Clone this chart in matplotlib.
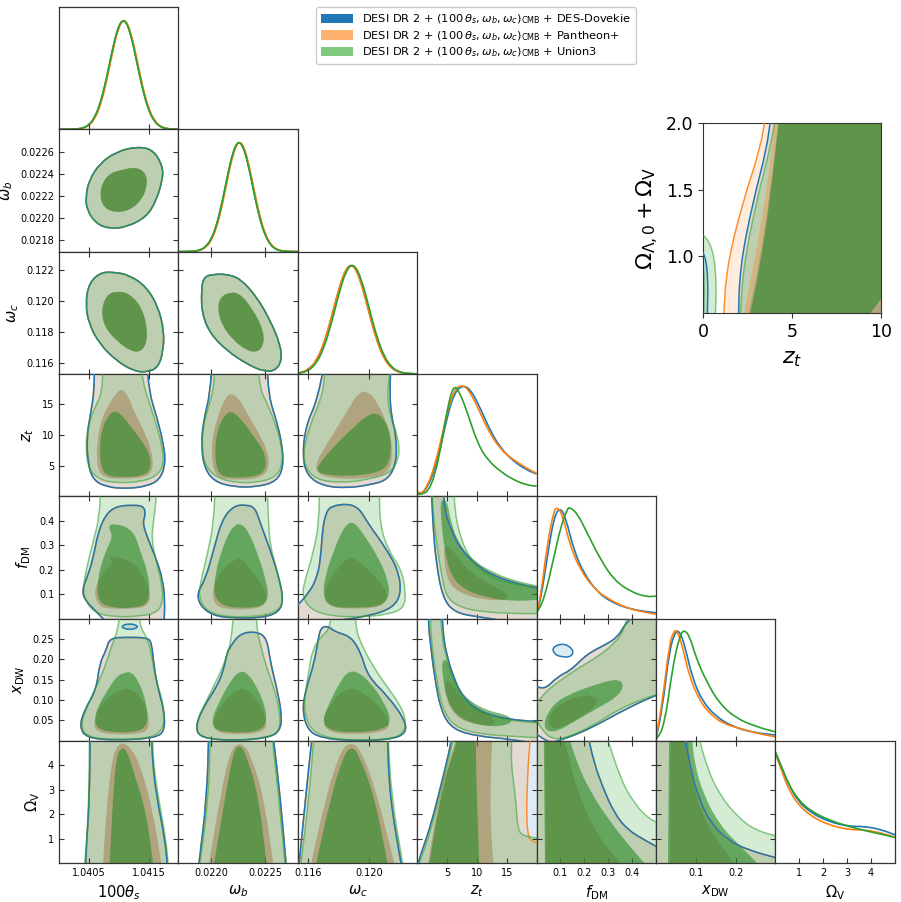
import numpy as np
import matplotlib
matplotlib.use("Agg")
import matplotlib.pyplot as plt
from matplotlib.path import Path
from matplotlib.patches import PathPatch, Patch

# ---- parameters -------------------------------------------------------
labels = [r"$100\theta_s$", r"$\omega_b$", r"$\omega_c$", r"$z_t$",
          r"$f_{\rm DM}$", r"$x_{\rm DW}$", r"$\Omega_{\rm V}$"]
ranges = [(1.0400, 1.0420), (0.0217, 0.0228), (0.1153, 0.1232), (0, 20),
          (0, 0.5), (0, 0.3), (0, 5)]
xticks = [[1.0405, 1.0415], [0.0220, 0.0225], [0.116, 0.120], [5, 10, 15],
          [0.1, 0.2, 0.3, 0.4], [0.1, 0.2], [1, 2, 3, 4]]
xticklabels = [["1.0405", "1.0415"], ["0.0220", "0.0225"], ["0.116", "0.120"],
               ["5", "10", "15"], ["0.1", "0.2", "0.3", "0.4"], ["0.1", "0.2"],
               ["1", "2", "3", "4"]]
yticks = [None, [0.0218, 0.0220, 0.0222, 0.0224, 0.0226], [0.116, 0.118, 0.120, 0.122],
          [5, 10, 15], [0.1, 0.2, 0.3, 0.4], [0.05, 0.10, 0.15, 0.20, 0.25], [1, 2, 3, 4]]
yticklabels = [None, ["0.0218", "0.0220", "0.0222", "0.0224", "0.0226"],
               ["0.116", "0.118", "0.120", "0.122"], ["5", "10", "15"],
               ["0.1", "0.2", "0.3", "0.4"], ["0.05", "0.10", "0.15", "0.20", "0.25"],
               ["1", "2", "3", "4"]]

legend_labels = [r"DESI DR 2 + $(100\,\theta_s, \omega_b, \omega_c)_{\rm CMB}$ + DES-Dovekie",
                 r"DESI DR 2 + $(100\,\theta_s, \omega_b, \omega_c)_{\rm CMB}$ + Pantheon+",
                 r"DESI DR 2 + $(100\,\theta_s, \omega_b, \omega_c)_{\rm CMB}$ + Union3"]
colors = ["#1f77b4", "#ff7f0e", "#2ca02c"]
inner_colors = ["#1f77b4", "#ff7f0e", "#288c28"]
legend_colors = ["#1f77b4", "#ffb26e", "#7fc97f"]

# ---- 1D marginals (peak normalised) -----------------------------------
theta_x = [1.0400, 1.0401, 1.0402, 1.0403, 1.0404, 1.0405, 1.0406, 1.0407, 1.0408, 1.0409,
           1.0410, 1.0411, 1.0412, 1.0413, 1.0414, 1.0415, 1.0416, 1.0417, 1.0418, 1.0419, 1.0420]
theta_b = [0, 0.0001, 0.0005, 0.0024, 0.0104, 0.036, 0.103, 0.240, 0.462, 0.726, 0.938,
           0.996, 0.868, 0.620, 0.364, 0.174, 0.069, 0.022, 0.006, 0.001, 0]
theta_o = [0, 0.0001, 0.0004, 0.002, 0.009, 0.032, 0.093, 0.222, 0.438, 0.704, 0.925,
           0.999, 0.885, 0.643, 0.385, 0.188, 0.076, 0.025, 0.007, 0.0015, 0]
theta_g = [0, 0.0001, 0.0006, 0.0027, 0.011, 0.038, 0.107, 0.247, 0.470, 0.733, 0.941,
           0.995, 0.862, 0.612, 0.357, 0.170, 0.067, 0.021, 0.006, 0.001, 0]

wb_x = [0.02170, 0.02175, 0.02180, 0.02185, 0.02190, 0.02195, 0.02200, 0.02205, 0.02210,
        0.02215, 0.02220, 0.02225, 0.02230, 0.02235, 0.02240, 0.02245, 0.02250, 0.02255,
        0.02260, 0.02265, 0.02270, 0.02275, 0.02280]
wb_b = [0, 0.0002, 0.0008, 0.0035, 0.013, 0.040, 0.103, 0.227, 0.423, 0.667, 0.887, 0.997,
        0.947, 0.760, 0.516, 0.297, 0.144, 0.059, 0.020, 0.006, 0.0015, 0.0003, 0]
wb_o = [0, 0.0001, 0.0006, 0.0028, 0.011, 0.035, 0.092, 0.208, 0.397, 0.640, 0.867, 0.992,
        0.960, 0.784, 0.543, 0.318, 0.157, 0.066, 0.023, 0.007, 0.0018, 0.0004, 0]
wb_g = [0, 0.0002, 0.0009, 0.0037, 0.014, 0.042, 0.106, 0.232, 0.430, 0.673, 0.891, 0.998,
        0.944, 0.754, 0.510, 0.292, 0.141, 0.057, 0.019, 0.006, 0.0014, 0.0003, 0]

wc_x = [0.1150, 0.1155, 0.1160, 0.1165, 0.1170, 0.1175, 0.1180, 0.1185, 0.1190,
        0.1195, 0.1200, 0.1205, 0.1210, 0.1215, 0.1220, 0.1225, 0.1230, 0.1235]
wc_b = [0.0024, 0.010, 0.037, 0.108, 0.256, 0.487, 0.756, 0.958, 0.987, 0.826, 0.563,
        0.311, 0.140, 0.051, 0.015, 0.004, 0.0007, 0.0001]
wc_o = [0.0026, 0.011, 0.039, 0.112, 0.262, 0.494, 0.762, 0.960, 0.985, 0.820, 0.556,
        0.305, 0.136, 0.049, 0.014, 0.0035, 0.0006, 0.0001]
wc_g = [0.0017, 0.0075, 0.029, 0.088, 0.220, 0.440, 0.712, 0.935, 0.997, 0.860, 0.605,
        0.345, 0.160, 0.060, 0.018, 0.0045, 0.0009, 0.0001]

zt_b_x = [0.11, 0.67, 1.78, 2.89, 4.0, 5.11, 6.22, 7.61, 9.0, 10.7, 12.3, 14.0, 16.2, 18.4, 20.0]
zt_b_y = [0.03, 0.018, 0.084, 0.235, 0.461, 0.732, 0.928, 1.0, 0.958, 0.777, 0.582, 0.431,
          0.310, 0.235, 0.199]
zt_o_x = [0.11, 0.67, 1.78, 2.89, 4.0, 5.11, 6.22, 7.33, 8.44, 10.1, 11.8, 14.0, 16.2, 18.4, 20.0]
zt_o_y = [0.04, 0.018, 0.10, 0.265, 0.506, 0.777, 0.958, 1.0, 0.973, 0.808, 0.597, 0.416,
          0.325, 0.250, 0.205]
zt_g_x = [0.11, 0.67, 1.78, 2.89, 4.0, 5.11, 6.11, 7.06, 8.44, 10.1, 11.8, 14.0, 16.2, 18.4, 20.0]
zt_g_y = [0.018, 0.018, 0.04, 0.175, 0.446, 0.808, 1.0, 0.943, 0.747, 0.476, 0.325, 0.22,
          0.145, 0.10, 0.09]

fdm_b_x = [0, 0.0168, 0.0448, 0.0728, 0.098, 0.121, 0.156, 0.198, 0.254, 0.310, 0.394, 0.5]
fdm_b_y = [0.051, 0.165, 0.555, 0.914, 1.0, 0.914, 0.614, 0.405, 0.240, 0.150, 0.081, 0.051]
fdm_o_x = [0, 0.0168, 0.0448, 0.0728, 0.0868, 0.107, 0.142, 0.184, 0.240, 0.296, 0.380, 0.465, 0.5]
fdm_o_y = [0.045, 0.195, 0.674, 0.974, 1.0, 0.944, 0.644, 0.435, 0.270, 0.180, 0.090, 0.051, 0.039]
fdm_g_x = [0, 0.0308, 0.0728, 0.101, 0.129, 0.140, 0.171, 0.213, 0.269, 0.325, 0.395, 0.458, 0.5]
fdm_g_y = [0.051, 0.165, 0.555, 0.824, 0.989, 1.0, 0.944, 0.764, 0.525, 0.345, 0.240, 0.195, 0.201]

xdw_b_x = [0, 0.0167, 0.0334, 0.050, 0.063, 0.075, 0.092, 0.117, 0.151, 0.192, 0.243, 0.3]
xdw_b_y = [0.015, 0.307, 0.814, 1.0, 0.963, 0.814, 0.560, 0.352, 0.218, 0.128, 0.075, 0.052]
xdw_o_x = [0, 0.0167, 0.0334, 0.046, 0.054, 0.067, 0.084, 0.109, 0.134, 0.167, 0.209, 0.251, 0.3]
xdw_o_y = [0.024, 0.367, 0.873, 0.995, 0.985, 0.843, 0.575, 0.367, 0.247, 0.158, 0.113, 0.069, 0.036]
xdw_g_x = [0, 0.0209, 0.0418, 0.0586, 0.0695, 0.084, 0.100, 0.125, 0.159, 0.201, 0.251, 0.3]
xdw_g_y = [0.009, 0.128, 0.665, 0.933, 1.0, 0.948, 0.754, 0.546, 0.337, 0.203, 0.128, 0.080]

ov_b_x = [0, 0.25, 0.53, 0.95, 1.51, 2.21, 3.05, 3.75, 4.45, 5.0]
ov_b_y = [1.0, 0.869, 0.719, 0.554, 0.450, 0.375, 0.330, 0.330, 0.300, 0.255]
ov_o_x = [0, 0.25, 0.53, 0.95, 1.51, 2.21, 3.05, 3.75, 4.45, 5.0]
ov_o_y = [0.99, 0.839, 0.674, 0.525, 0.420, 0.345, 0.300, 0.300, 0.270, 0.234]
ov_g_x = [0, 0.25, 0.53, 0.95, 1.51, 2.21, 3.05, 3.89, 4.72, 5.0]
ov_g_y = [0.99, 0.869, 0.719, 0.569, 0.465, 0.390, 0.330, 0.285, 0.246, 0.231]

marg_x = [[theta_x] * 3, [wb_x] * 3, [wc_x] * 3, [zt_b_x, zt_o_x, zt_g_x],
          [fdm_b_x, fdm_o_x, fdm_g_x], [xdw_b_x, xdw_o_x, xdw_g_x], [ov_b_x, ov_o_x, ov_g_x]]
marg_y = [[theta_b, theta_o, theta_g], [wb_b, wb_o, wb_g], [wc_b, wc_o, wc_g],
          [zt_b_y, zt_o_y, zt_g_y], [fdm_b_y, fdm_o_y, fdm_g_y],
          [xdw_b_y, xdw_o_y, xdw_g_y], [ov_b_y, ov_o_y, ov_g_y]]

# ---- 2D contours (95% / 68%), vertices ------------------------------------
# b = DES-Dovekie (orange uses the same unless 'o' keys given), g = Union3
c10_out = [(1.041296, 0.022644), (1.041576, 0.022619), (1.041743, 0.022462), (1.041732, 0.022342),
           (1.041631, 0.022161), (1.041464, 0.022010), (1.041128, 0.021920), (1.040849, 0.021905),
           (1.040626, 0.021950), (1.040469, 0.022071), (1.040447, 0.022191), (1.040503, 0.022342),
           (1.040682, 0.022493), (1.040961, 0.022598)]
c10_in = [(1.041017, 0.022432), (1.041296, 0.022462), (1.041464, 0.022402), (1.041475, 0.022282),
          (1.041380, 0.022161), (1.041184, 0.022071), (1.040933, 0.022050), (1.040737, 0.022101),
          (1.040682, 0.022221), (1.040737, 0.022327), (1.040849, 0.022402)]
c20_out = [(1.040680, 0.121827), (1.040904, 0.121892), (1.041185, 0.121675), (1.041466, 0.120917),
           (1.041663, 0.119617), (1.041758, 0.118100), (1.041747, 0.116800), (1.041663, 0.115717),
           (1.041466, 0.115392), (1.041242, 0.115500), (1.040961, 0.116150), (1.040680, 0.117233),
           (1.040500, 0.118533), (1.040444, 0.119833), (1.040500, 0.121133)]
c20_in = [(1.040792, 0.120375), (1.040961, 0.120657), (1.041185, 0.120483), (1.041382, 0.119617),
          (1.041478, 0.118317), (1.041466, 0.117233), (1.041354, 0.116692), (1.041185, 0.116800),
          (1.040961, 0.117450), (1.040764, 0.118317), (1.040708, 0.119400)]
c21_out = [(0.021933, 0.121567), (0.022025, 0.121740), (0.022147, 0.121740), (0.022270, 0.121458),
           (0.022423, 0.120267), (0.022546, 0.118750), (0.022638, 0.117233), (0.022653, 0.116150),
           (0.022592, 0.115500), (0.022485, 0.115457), (0.022331, 0.115933), (0.022147, 0.116800),
           (0.021994, 0.117883), (0.021917, 0.119183), (0.021911, 0.120700)]
c21_in = [(0.022086, 0.120267), (0.022178, 0.120592), (0.022270, 0.120483), (0.022393, 0.119400),
          (0.022485, 0.118100), (0.022485, 0.117125), (0.022423, 0.116692), (0.022331, 0.116800),
          (0.022209, 0.117450), (0.022101, 0.118425), (0.022061, 0.119508)]

c30 = {
    "g95": [[(1.040736, 23), (1.040725, 16.91), (1.040596, 14.45), (1.040483, 11.45), (1.040444, 7.62),
             (1.040500, 4.34), (1.040680, 2.70), (1.040961, 2.16), (1.041354, 2.32), (1.041635, 3.25),
             (1.041758, 5.16), (1.041730, 8.17), (1.041624, 12.0), (1.041494, 15.82), (1.041410, 18.55),
             (1.041343, 23)]],
    "b95": [[(1.040584, 23), (1.040596, 17.46), (1.040522, 13.09), (1.040466, 9.81), (1.040483, 5.44),
             (1.040567, 2.70), (1.040792, 1.50), (1.041129, 1.23), (1.041466, 1.61), (1.041691, 2.70),
             (1.041787, 5.44), (1.041747, 8.72), (1.041635, 13.09), (1.041511, 16.91), (1.041466, 23)]],
    "g68": [[(1.040933, 14.07), (1.041073, 13.09), (1.041242, 10.90), (1.041410, 8.72), (1.041534, 6.53),
             (1.041534, 4.34), (1.041410, 3.36), (1.041129, 3.09), (1.040792, 3.25), (1.040697, 4.89),
             (1.040680, 8.72), (1.040736, 11.45), (1.040820, 13.09)]],
    "b68": [[(1.041062, 17.46), (1.041157, 16.37), (1.041242, 14.18), (1.041410, 10.90), (1.041551, 7.62),
             (1.041579, 4.34), (1.041466, 3.14), (1.041129, 2.81), (1.040736, 2.98), (1.040635, 4.89),
             (1.040635, 8.72), (1.040708, 12.54), (1.040848, 15.27), (1.040989, 17.19)]],
}
c31 = {
    "g95": [[(0.022040, 23), (0.022025, 17.46), (0.021979, 14.73), (0.021926, 11.45), (0.021917, 7.62),
             (0.021948, 4.89), (0.022055, 2.98), (0.022239, 2.16), (0.022454, 2.27), (0.022607, 3.25),
             (0.022662, 5.44), (0.022653, 8.17), (0.022592, 12.0), (0.022515, 15.27), (0.022454, 17.46),
             (0.022423, 23)]],
    "b95": [[(0.022009, 23), (0.021994, 16.91), (0.021933, 12.54), (0.021911, 8.72), (0.021933, 4.89),
             (0.022025, 2.43), (0.022209, 1.50), (0.022423, 1.50), (0.022607, 2.43), (0.022669, 4.89),
             (0.022653, 8.72), (0.022601, 12.54), (0.022531, 16.37), (0.022515, 23)]],
    "g68": [[(0.022178, 14.02), (0.022270, 12.81), (0.022393, 9.81), (0.022500, 7.08), (0.022509, 4.34),
             (0.022423, 3.25), (0.022239, 2.98), (0.022086, 3.25), (0.022040, 5.44), (0.022040, 8.72),
             (0.022071, 11.45), (0.022123, 13.09)]],
    "b68": [[(0.022172, 16.91), (0.022255, 16.09), (0.022331, 13.63), (0.022439, 10.35), (0.022531, 7.08),
             (0.022531, 4.07), (0.022423, 2.81), (0.022209, 2.70), (0.022055, 2.98), (0.022009, 5.44),
             (0.022009, 9.26), (0.022055, 12.54), (0.022110, 15.27)]],
}
c32 = {
    "g95": [[(0.117156, 23), (0.117044, 18.52), (0.116822, 15.82), (0.116156, 12.0), (0.115667, 7.62),
             (0.115756, 4.89), (0.116489, 2.70), (0.118156, 2.16), (0.119933, 2.70), (0.121489, 3.80),
             (0.122044, 6.53), (0.121933, 9.81), (0.121378, 13.09), (0.121222, 16.91), (0.121378, 19.64),
             (0.121378, 23)]],
    "b95": [[(0.117156, 23), (0.116600, 15.82), (0.115822, 11.45), (0.115600, 6.53), (0.115933, 3.25),
             (0.117044, 1.61), (0.118600, 1.34), (0.120156, 1.89), (0.121267, 2.70), (0.121822, 5.44),
             (0.121822, 9.81), (0.121489, 13.09), (0.121378, 16.91), (0.121489, 23)]],
    "g68": [[(0.116600, 4.89), (0.117489, 7.62), (0.118822, 10.90), (0.119933, 13.36), (0.120711, 13.63),
             (0.121378, 10.90), (0.121489, 7.62), (0.121267, 4.89), (0.120378, 3.69), (0.118600, 3.25),
             (0.117044, 3.52), (0.116600, 4.07)]],
    "b68": [[(0.116378, 4.89), (0.117267, 8.72), (0.118378, 13.09), (0.119267, 16.91), (0.119933, 17.19),
             (0.120600, 15.27), (0.121378, 10.90), (0.121600, 6.53), (0.121267, 3.80), (0.120156, 2.98),
             (0.118378, 2.81), (0.116822, 3.25)]],
}
c40 = {
    "g95": [[(1.040697, 0.56), (1.040680, 0.418), (1.040567, 0.309), (1.040455, 0.200), (1.040399, 0.118),
             (1.040455, 0.063), (1.040624, 0.020), (1.040961, 0.006), (1.041354, 0.009), (1.041663, 0.025),
             (1.041747, 0.077), (1.041719, 0.145), (1.041635, 0.227), (1.041551, 0.322), (1.041579, 0.390),
             (1.041624, 0.472), (1.041635, 0.56)]],
    "b95": [[(1.040961, 0.459), (1.041242, 0.464), (1.041421, 0.459), (1.041449, 0.425), (1.041399, 0.390),
             (1.041494, 0.322), (1.041635, 0.240), (1.041736, 0.159), (1.041775, 0.077), (1.041758, -0.03),
             (1.040848, -0.03), (1.040624, 0.029), (1.040427, 0.077), (1.040388, 0.118), (1.040466, 0.165),
             (1.040567, 0.240), (1.040652, 0.350), (1.040781, 0.425)]],
    "g68": [[(1.040817, 0.377), (1.040929, 0.390), (1.041242, 0.363), (1.041354, 0.281), (1.041494, 0.186),
             (1.041522, 0.104), (1.041466, 0.056), (1.041242, 0.043), (1.040905, 0.043), (1.040680, 0.063),
             (1.040635, 0.118), (1.040680, 0.200), (1.040792, 0.281), (1.040905, 0.336)]],
    "b68": [[(1.040817, 0.247), (1.040929, 0.257), (1.041270, 0.227), (1.041410, 0.172), (1.041522, 0.118),
             (1.041522, 0.063), (1.041354, 0.040), (1.040817, 0.039), (1.040680, 0.050), (1.040596, 0.091),
             (1.040624, 0.145), (1.040792, 0.200), (1.040933, 0.234)]],
}
c41 = {
    "g95": [[(0.022040, 0.56), (0.022025, 0.390), (0.021963, 0.254), (0.021902, 0.145), (0.021887, 0.090),
             (0.021948, 0.036), (0.022086, 0.009), (0.022331, 0.006), (0.022546, 0.016), (0.022662, 0.050),
             (0.022653, 0.118), (0.022607, 0.200), (0.022546, 0.295), (0.022531, 0.390), (0.022515, 0.56)]],
    "b95": [[(0.022209, 0.461), (0.022331, 0.465), (0.022408, 0.452), (0.022454, 0.390), (0.022546, 0.281),
             (0.022623, 0.172), (0.022669, 0.077), (0.022623, 0.023), (0.022454, 0.002), (0.022209, 0.002),
             (0.022025, 0.011), (0.021902, 0.050), (0.021871, 0.104), (0.021948, 0.159), (0.022025, 0.281),
             (0.022101, 0.404)]],
    "g68": [[(0.022209, 0.377), (0.022270, 0.390), (0.022347, 0.356), (0.022439, 0.254), (0.022515, 0.145),
             (0.022531, 0.077), (0.022454, 0.047), (0.022270, 0.043), (0.022117, 0.050), (0.022025, 0.091),
             (0.022040, 0.186), (0.022101, 0.281), (0.022163, 0.349)]],
    "b68": [[(0.022224, 0.241), (0.022285, 0.248), (0.022393, 0.186), (0.022500, 0.118), (0.022515, 0.063),
             (0.022423, 0.039), (0.022209, 0.036), (0.022055, 0.047), (0.022009, 0.091), (0.022040, 0.159),
             (0.022132, 0.213)]],
}
c42 = {
    "g95": [[(0.116711, 0.56), (0.116711, 0.390), (0.116267, 0.254), (0.115711, 0.145), (0.115600, 0.090),
             (0.116156, 0.036), (0.117489, 0.009), (0.119489, 0.006), (0.121267, 0.016), (0.122378, 0.043),
             (0.122422, 0.118), (0.122156, 0.200), (0.121267, 0.281), (0.120711, 0.390), (0.120711, 0.56)]],
    "b95": [[(0.117489, 0.459), (0.118600, 0.470), (0.119378, 0.450), (0.119933, 0.390), (0.121044, 0.295),
             (0.121933, 0.200), (0.122156, 0.104), (0.121600, 0.043), (0.119933, 0.009), (0.117711, -0.01),
             (0.1150, -0.02), (0.1150, 0.036), (0.116044, 0.104), (0.116600, 0.172), (0.116822, 0.254),
             (0.116933, 0.363), (0.117156, 0.431)]],
    "g68": [[(0.118600, 0.390), (0.119044, 0.393), (0.119600, 0.349), (0.120600, 0.254), (0.121267, 0.159),
             (0.121378, 0.091), (0.120822, 0.050), (0.119044, 0.043), (0.117489, 0.047), (0.116933, 0.091),
             (0.117156, 0.186), (0.117711, 0.281), (0.118156, 0.349)]],
    "b68": [[(0.118600, 0.247), (0.119044, 0.250), (0.119933, 0.200), (0.121044, 0.131), (0.121267, 0.077),
             (0.120600, 0.043), (0.118822, 0.039), (0.117378, 0.047), (0.117000, 0.091), (0.117378, 0.159),
             (0.118044, 0.213)]],
}
c43 = {
    "g95": [[(6.22, 0.56), (6.22, 0.445), (7.33, 0.322), (9.0, 0.240), (11.22, 0.186), (14.56, 0.145),
             (21, 0.125), (21, 0.020), (15.67, 0.020), (10.11, 0.029), (6.78, 0.050), (4.83, 0.090),
             (4.0, 0.186), (3.17, 0.322), (2.61, 0.445), (2.44, 0.56)]],
    "b95": [[(4.28, 0.56), (4.56, 0.445), (5.67, 0.363), (7.33, 0.281), (10.11, 0.213), (14.0, 0.159),
             (21, 0.118), (21, -0.03), (10.11, 0.006), (6.22, 0.025), (4.28, 0.084), (3.17, 0.227),
             (2.61, 0.390), (2.33, 0.56)]],
    "g68": [[(3.89, 0.486), (5.0, 0.486), (5.67, 0.390), (7.06, 0.302), (9.56, 0.234), (12.89, 0.186),
             (16.78, 0.152), (21, 0.131), (21, 0.077), (15.67, 0.070), (11.22, 0.088), (7.89, 0.118),
             (5.67, 0.172), (4.56, 0.281), (4.0, 0.404)]],
    "b68": [[(4.56, 0.302), (5.94, 0.281), (7.89, 0.213), (10.67, 0.159), (14.0, 0.118), (15.39, 0.091),
             (14.56, 0.073), (11.22, 0.077), (7.89, 0.097), (5.67, 0.131), (4.83, 0.186), (4.44, 0.254)]],
}
c50_main = [(1.040848, 0.252), (1.041129, 0.254), (1.041466, 0.253), (1.041551, 0.243), (1.041590, 0.182),
            (1.041663, 0.125), (1.041758, 0.076), (1.041775, 0.027), (1.041635, 0.007), (1.040961, 0.001),
            (1.040455, 0.007), (1.040343, 0.035), (1.040427, 0.076), (1.040624, 0.125), (1.040680, 0.190),
            (1.040792, 0.223)]
c50 = {
    "g95": [[(1.041028, 0.33), (1.040989, 0.272), (1.040876, 0.231), (1.040792, 0.190), (1.040652, 0.141),
             (1.040466, 0.084), (1.040371, 0.043), (1.040427, 0.015), (1.040680, 0.004), (1.041242, 0.003),
             (1.041635, 0.011), (1.041775, 0.043), (1.041747, 0.092), (1.041607, 0.158), (1.041551, 0.215),
             (1.041466, 0.256), (1.041354, 0.280), (1.041343, 0.33)]],
    "b95": [c50_main, [(1.041017, 0.280), (1.041185, 0.289), (1.041354, 0.280), (1.041185, 0.271)]],
    "o95": [c50_main],
    "g68": [[(1.041073, 0.166), (1.041213, 0.170), (1.041354, 0.141), (1.041466, 0.092), (1.041494, 0.043),
             (1.041354, 0.023), (1.040961, 0.019), (1.040624, 0.029), (1.040596, 0.060), (1.040680, 0.092),
             (1.040848, 0.133), (1.040972, 0.158)]],
    "b68": [[(1.041073, 0.127), (1.041213, 0.127), (1.041382, 0.105), (1.041494, 0.068), (1.041511, 0.031),
             (1.041382, 0.017), (1.040961, 0.015), (1.040624, 0.021), (1.040579, 0.048), (1.040680, 0.084),
             (1.040876, 0.113)]],
}
c51 = {
    "g95": [[(0.022209, 0.33), (0.022193, 0.256), (0.022147, 0.207), (0.022071, 0.158), (0.021963, 0.101),
             (0.021871, 0.052), (0.021865, 0.019), (0.021963, 0.004), (0.022270, 0.001), (0.022546, 0.007),
             (0.022638, 0.027), (0.022632, 0.076), (0.022577, 0.133), (0.022500, 0.190), (0.022454, 0.239),
             (0.022423, 0.272), (0.022417, 0.33)]],
    "b95": [[(0.022178, 0.231), (0.022270, 0.264), (0.022423, 0.268), (0.022515, 0.252), (0.022546, 0.195),
             (0.022607, 0.129), (0.022653, 0.064), (0.022638, 0.023), (0.022515, 0.007), (0.022209, 0.0),
             (0.021902, 0.007), (0.021856, 0.035), (0.021933, 0.084), (0.022055, 0.133), (0.022117, 0.174),
             (0.022147, 0.215)]],
    "g68": [[(0.022255, 0.170), (0.022331, 0.168), (0.022423, 0.133), (0.022500, 0.084), (0.022515, 0.043),
             (0.022439, 0.023), (0.022209, 0.019), (0.022025, 0.027), (0.022009, 0.056), (0.022086, 0.101),
             (0.022178, 0.146)]],
    "b68": [[(0.022255, 0.127), (0.022331, 0.127), (0.022439, 0.097), (0.022515, 0.052), (0.022500, 0.023),
             (0.022301, 0.015), (0.022055, 0.019), (0.022009, 0.044), (0.022086, 0.084), (0.022178, 0.113)]],
}
c52 = {
    "g95": [[(0.117600, 0.33), (0.117378, 0.272), (0.116822, 0.256), (0.116267, 0.223), (0.116044, 0.174),
             (0.115822, 0.125), (0.115711, 0.084), (0.115933, 0.043), (0.116600, 0.015), (0.118156, 0.002),
             (0.120600, 0.001), (0.122156, 0.011), (0.122489, 0.043), (0.122156, 0.084), (0.121044, 0.141),
             (0.120156, 0.190), (0.119489, 0.239), (0.119156, 0.272), (0.119089, 0.33)]],
    "b95": [[(0.116822, 0.280), (0.117378, 0.280), (0.117711, 0.268), (0.118822, 0.256), (0.119489, 0.215),
             (0.119933, 0.158), (0.121267, 0.109), (0.122378, 0.052), (0.122489, 0.019), (0.121489, 0.003),
             (0.118822, 0.0), (0.116822, 0.007), (0.115933, 0.027), (0.115600, 0.076), (0.115822, 0.125),
             (0.116378, 0.190), (0.116600, 0.239)]],
    "g68": [[(0.118600, 0.170), (0.119267, 0.170), (0.120156, 0.141), (0.121044, 0.092), (0.121489, 0.051),
             (0.121044, 0.027), (0.118822, 0.019), (0.117267, 0.027), (0.116933, 0.052), (0.117378, 0.092),
             (0.118044, 0.141)]],
    "b68": [[(0.118378, 0.127), (0.119267, 0.127), (0.120378, 0.097), (0.121378, 0.052), (0.121267, 0.023),
             (0.119044, 0.015), (0.117267, 0.021), (0.116933, 0.052), (0.117489, 0.092)]],
}
c53 = {
    "g95": [[(3.89, 0.33), (4.11, 0.263), (4.67, 0.214), (5.78, 0.157), (7.33, 0.107), (10.11, 0.072),
             (14.56, 0.051), (21, 0.043), (21, 0.007), (15.67, 0.011), (10.11, 0.017), (6.22, 0.035),
             (4.28, 0.076), (3.17, 0.157), (2.44, 0.238), (2.22, 0.283), (2.22, 0.33)]],
    "b95": [[(4.11, 0.33), (4.33, 0.263), (4.89, 0.214), (6.0, 0.159), (7.61, 0.107), (10.39, 0.072),
             (14.83, 0.053), (21, 0.046), (21, -0.01), (15.67, 0.004), (10.11, 0.011), (5.94, 0.028),
             (4.0, 0.072), (2.89, 0.157), (2.22, 0.238), (1.89, 0.283), (1.89, 0.33)]],
    "g68": [[(4.11, 0.198), (5.11, 0.198), (6.22, 0.149), (7.89, 0.108), (11.22, 0.076), (15.67, 0.061),
             (15.94, 0.043), (12.89, 0.033), (9.0, 0.043), (6.22, 0.067), (4.83, 0.108), (4.28, 0.157)]],
    "b68": [[(4.56, 0.149), (5.67, 0.145), (7.33, 0.104), (10.11, 0.076), (12.89, 0.055), (13.17, 0.039),
             (10.11, 0.039), (7.33, 0.051), (5.67, 0.076), (4.83, 0.108)]],
}
c54_main = [(-0.02, 0.141), (0.031, 0.124), (0.087, 0.157), (0.143, 0.173), (0.185, 0.198), (0.227, 0.218),
            (0.283, 0.234), (0.339, 0.254), (0.367, 0.283), (0.395, 0.30), (0.451, 0.33), (0.52, 0.33),
            (0.52, 0.116), (0.437, 0.096), (0.339, 0.067), (0.227, 0.031), (0.129, 0.007), (0.059, -0.005),
            (0.010, 0.011), (-0.02, 0.027)]
c54 = {
    "g95": [[(-0.02, 0.076), (0.024, 0.023), (0.073, 0.002), (0.143, 0.011), (0.241, 0.039), (0.339, 0.076),
             (0.451, 0.104), (0.52, 0.116), (0.52, 0.33), (0.388, 0.33), (0.367, 0.271), (0.325, 0.238),
             (0.255, 0.206), (0.171, 0.177), (0.101, 0.149), (0.045, 0.124), (0.010, 0.100)]],
    "b95": [c54_main,
            [(0.066, 0.230), (0.115, 0.240), (0.157, 0.222), (0.143, 0.205), (0.101, 0.206), (0.073, 0.213)]],
    "o95": [c54_main],
    "g68": [[(0.031, 0.051), (0.073, 0.092), (0.143, 0.116), (0.241, 0.137), (0.339, 0.153), (0.367, 0.137),
             (0.339, 0.108), (0.255, 0.080), (0.157, 0.047), (0.087, 0.023), (0.038, 0.023)]],
    "b68": [[(0.045, 0.059), (0.101, 0.092), (0.185, 0.112), (0.255, 0.108), (0.248, 0.084), (0.185, 0.059),
             (0.115, 0.035), (0.059, 0.028)]],
}
c60 = {
    "g95": [[(1.040511, 5.3), (1.040500, 2.72), (1.040466, 0.95), (1.040427, -0.1), (1.041831, -0.1),
             (1.041792, 0.95), (1.041663, 2.72), (1.041579, 4.09), (1.041567, 5.3)]],
    "b95": [[(1.040522, 5.3), (1.040511, 2.72), (1.040466, 0.95), (1.040444, -0.1), (1.041815, -0.1),
             (1.041775, 0.95), (1.041635, 2.72), (1.041567, 4.09), (1.041551, 5.3)]],
    "g68": [[(1.040848, -0.1), (1.041579, -0.1), (1.041466, 2.04), (1.041242, 3.81), (1.041129, 4.63),
             (1.041045, 4.72), (1.040961, 4.36), (1.040904, 2.72)]],
    "b68": [[(1.040736, -0.1), (1.041719, -0.1), (1.041579, 2.04), (1.041354, 4.09), (1.041157, 4.86),
             (1.040989, 4.92), (1.040876, 4.09), (1.040792, 2.04)]],
}
c61 = {
    "g95": [[(0.021994, 5.3), (0.021979, 2.72), (0.021896, -0.1), (0.022684, -0.1), (0.022623, 2.72),
             (0.022561, 5.3)]],
    "b95": [[(0.021979, 5.3), (0.021963, 2.72), (0.021887, -0.1), (0.022693, -0.1), (0.022638, 2.72),
             (0.022570, 5.3)]],
    "g68": [[(0.022025, -0.1), (0.022515, -0.1), (0.022439, 2.72), (0.022331, 4.36), (0.022270, 4.84),
             (0.022209, 4.63), (0.022132, 2.72)]],
    "b68": [[(0.021979, -0.1), (0.022577, -0.1), (0.022485, 2.72), (0.022362, 4.5), (0.022270, 4.95),
             (0.022178, 4.63), (0.022086, 2.72)]],
}
c62 = {
    "g95": [[(0.116378, 5.3), (0.116044, 2.72), (0.115489, -0.1), (0.122267, -0.1), (0.121489, 2.72),
             (0.121267, 5.3)]],
    "b95": [[(0.116267, 5.3), (0.115822, 2.72), (0.115378, -0.1), (0.122156, -0.1), (0.121378, 2.72),
             (0.121222, 5.3)]],
    "g68": [[(0.116489, -0.1), (0.121267, -0.1), (0.120378, 2.72), (0.119378, 4.36), (0.118933, 4.77),
             (0.118378, 4.50), (0.117489, 2.72)]],
    "b68": [[(0.116156, -0.1), (0.121711, -0.1), (0.120600, 2.72), (0.119489, 4.63), (0.118822, 4.95),
             (0.118156, 4.63), (0.117156, 2.72)]],
}
c63 = {
    "g95": [[(0.2, -0.1), (0.67, 0.2), (2.33, 1.36), (4.0, 3.0), (5.1, 4.09), (5.94, 4.97), (6.2, 5.3),
             (15.9, 5.3), (15.67, 4.09), (16.5, 2.72), (16.8, 1.36), (17.9, 1.09), (21, 1.0), (21, -0.1)]],
    "b95": [[(0.1, -0.1), (0.5, 0.3), (2.1, 1.4), (3.8, 3.0), (4.9, 4.09), (5.7, 4.97), (5.9, 5.3),
             (21, 5.3), (21, -0.1)]],
    "o95": [[(0.1, -0.1), (0.5, 0.3), (2.1, 1.4), (3.8, 3.0), (4.9, 4.09), (5.7, 4.97), (5.9, 5.3),
             (19.0, 5.3), (18.4, 3.4), (18.3, 1.09), (19.8, 0.82), (21, 0.8), (21, -0.1)]],
    "g68": [[(2.0, -0.1), (2.9, 1.36), (4.56, 3.4), (6.2, 4.63), (7.0, 5.3), (9.8, 5.3), (9.9, 3.5),
             (10.1, 2.0), (10.4, -0.1)]],
    "b68": [[(1.8, -0.1), (2.7, 1.36), (4.4, 3.4), (6.0, 4.63), (6.8, 5.3), (12.6, 5.3), (12.2, 3.0),
             (12.4, 1.0), (12.8, -0.1)]],
}
c64 = {
    "g95": [[(-0.02, -0.1), (-0.02, 5.3), (0.29, 5.3), (0.353, 3.4), (0.409, 2.45), (0.465, 1.84),
             (0.52, 1.6), (0.52, -0.1)]],
    "b95": [[(-0.02, -0.1), (-0.02, 5.3), (0.213, 5.3), (0.241, 4.09), (0.276, 3.13), (0.325, 2.04),
             (0.381, 1.36), (0.451, 0.95), (0.52, 0.58), (0.52, -0.1)]],
    "g68": [[(0.035, -0.1), (0.03, 5.3), (0.13, 5.3), (0.17, 4.09), (0.22, 3.0), (0.30, 1.8),
             (0.38, 0.8), (0.46, -0.1)]],
    "b68": [[(0.04, -0.1), (0.035, 5.3), (0.11, 5.3), (0.14, 4.09), (0.17, 3.0), (0.22, 1.8),
             (0.28, 0.8), (0.36, -0.1)]],
}
c65 = {
    "g95": [[(-0.02, -0.1), (-0.02, 5.3), (0.105, 5.3), (0.13, 3.8), (0.163, 2.72), (0.205, 1.9),
             (0.247, 1.36), (0.31, 1.07), (0.31, -0.1)]],
    "b95": [[(-0.02, -0.1), (-0.02, 5.3), (0.071, 5.3), (0.084, 4.09), (0.105, 2.72), (0.138, 1.63),
             (0.18, 0.95), (0.23, 0.54), (0.31, 0.18), (0.31, -0.1)]],
    "g68": [[(0.03, -0.1), (0.033, 5.3), (0.09, 5.3), (0.096, 4.09), (0.121, 2.72), (0.163, 1.5),
             (0.213, 0.68), (0.26, -0.1)]],
    "b68": [[(0.035, -0.1), (0.037, 5.3), (0.078, 5.3), (0.085, 4.09), (0.10, 2.72), (0.13, 1.5),
             (0.165, 0.68), (0.2, -0.1)]],
}
contours = {
    (1, 0): {"b95": [c10_out], "b68": [c10_in], "g95": [c10_out], "g68": [c10_in]},
    (2, 0): {"b95": [c20_out], "b68": [c20_in], "g95": [c20_out], "g68": [c20_in]},
    (2, 1): {"b95": [c21_out], "b68": [c21_in], "g95": [c21_out], "g68": [c21_in]},
    (3, 0): c30, (3, 1): c31, (3, 2): c32,
    (4, 0): c40, (4, 1): c41, (4, 2): c42, (4, 3): c43,
    (5, 0): c50, (5, 1): c51, (5, 2): c52, (5, 3): c53, (5, 4): c54,
    (6, 0): c60, (6, 1): c61, (6, 2): c62, (6, 3): c63, (6, 4): c64, (6, 5): c65,
}

# inset: z_t vs Omega_Lambda0 + Omega_V
inset_contours = {
    "b95": [[(1.97, 0.5), (2.06, 0.92), (2.81, 1.42), (3.56, 1.80), (3.85, 2.1), (11, 2.1), (11, 0.5)],
            [(-0.5, 0.5), (-0.5, 1.05), (0.0, 1.05), (0.28, 0.87), (0.22, 0.5)]],
    "o95": [[(1.13, 0.5), (1.31, 0.92), (2.25, 1.42), (3.19, 1.80), (3.56, 2.1), (11, 2.1), (11, 0.5)]],
    "g95": [[(2.06, 0.5), (2.25, 0.92), (3.0, 1.42), (3.75, 1.80), (4.13, 2.1), (11, 2.1), (11, 0.5)],
            [(-0.5, 0.5), (-0.5, 1.17), (0.0, 1.17), (0.56, 1.05), (0.75, 0.79), (0.66, 0.5)]],
    "b68": [[(2.45, 0.5), (3.1, 0.92), (3.7, 1.42), (4.3, 2.1), (11, 2.1), (11, 0.75), (9.5, 0.5)]],
    "o68": [[(2.2, 0.5), (2.8, 0.92), (3.5, 1.42), (4.1, 2.1), (11, 2.1), (11, 0.7), (9.6, 0.5)]],
    "g68": [[(2.53, 0.5), (3.19, 0.92), (3.75, 1.42), (4.32, 2.1), (11, 2.1), (11, 0.85), (9.0, 0.5)],
            [(-0.5, 0.5), (-0.5, 1.0), (0.0, 1.0), (0.1, 0.8), (0.05, 0.5)]],
}


def smooth_path(pts, xlim, ylim):
    # closed quadratic-bezier path through the midpoints of the read vertices;
    # vertices lying outside the axes box are kept as sharp corners
    pts = np.asarray(pts, float)
    n = len(pts)
    sharp = ((pts[:, 0] < min(xlim)) | (pts[:, 0] > max(xlim)) |
             (pts[:, 1] < min(ylim)) | (pts[:, 1] > max(ylim)))
    mids = (pts + np.roll(pts, -1, axis=0)) / 2
    start = pts[0] if sharp[0] else mids[-1]
    verts, codes = [start], [Path.MOVETO]
    for i in range(n):
        if sharp[i]:
            verts.append(pts[i]); codes.append(Path.LINETO)
        else:
            verts += [mids[i - 1], pts[i], mids[i]]
            codes += [Path.LINETO, Path.CURVE3, Path.CURVE3]
    verts.append(start); codes.append(Path.LINETO)
    return Path(verts, codes)


def smooth_line(x, y):
    # open quadratic-bezier curve through midpoints of the sampled points
    pts = np.column_stack([x, y]).astype(float)
    mids = (pts[:-1] + pts[1:]) / 2
    verts, codes = [pts[0], mids[0]], [Path.MOVETO, Path.LINETO]
    for i in range(1, len(pts) - 1):
        verts += [pts[i], mids[i]]
        codes += [Path.CURVE3, Path.CURVE3]
    verts.append(pts[-1]); codes.append(Path.LINETO)
    return Path(verts, codes)


def draw2d(ax, shapes):
    xl, yl = ax.get_xlim(), ax.get_ylim()
    fills = [("b", 0, 0.14, 0.30), ("o", 1, 0.14, 0.30), ("g", 2, 0.20, 0.60)]
    for key, k, a95, a68 in fills:
        for poly in shapes.get(key + "95", shapes["b95"]):
            ax.add_patch(PathPatch(smooth_path(poly, xl, yl), facecolor=colors[k], alpha=a95,
                                   edgecolor="none", zorder=1))
        for poly in shapes.get(key + "68", shapes["b68"]):
            ax.add_patch(PathPatch(smooth_path(poly, xl, yl), facecolor=inner_colors[k], alpha=a68,
                                   edgecolor="none", zorder=2))
    # outlines of the 95% regions: orange, then blue, then green on top
    for key, k, line_alpha in [("o", 1, 0.85), ("b", 0, 1.0), ("g", 2, 0.55)]:
        for poly in shapes.get(key + "95", shapes["b95"]):
            ax.add_patch(PathPatch(smooth_path(poly, xl, yl), facecolor="none", edgecolor=colors[k],
                                   alpha=line_alpha, lw=1.1, zorder=3))


spine_col = "#333333"
fig = plt.figure(figsize=(9.01, 9.02), dpi=100)
W, H = 901.0, 902.0
x0, pw = 59.0, 119.4
y0, ph = 7.0, 122.3

for i in range(7):
    for j in range(i + 1):
        ax = fig.add_axes([(x0 + pw * j) / W, 1 - (y0 + ph * (i + 1)) / H, pw / W, ph / H])
        for s in ax.spines.values():
            s.set_color(spine_col)
            s.set_linewidth(0.9)
        ax.set_xlim(ranges[j])
        ax.set_xticks(xticks[j])
        if i == j:
            ax.set_ylim(0, 1.1)
            for k in range(3):
                ax.add_patch(PathPatch(smooth_line(marg_x[i][k], marg_y[i][k]), facecolor="none",
                                       edgecolor=colors[k], lw=1.2))
            ax.set_yticks([])
            ax.tick_params(axis="x", direction="in", length=3.5, color=spine_col, labelsize=7)
        else:
            ax.set_ylim(ranges[i])
            draw2d(ax, contours[(i, j)])
            ax.set_yticks(yticks[i])
            ax.tick_params(direction="in", length=3.5, top=True, right=True, color=spine_col, labelsize=7)
        if i == 6:
            ax.set_xticklabels(xticklabels[j])
            ax.set_xlabel(labels[j], fontsize=10.5)
        else:
            ax.set_xticklabels([])
        if j == 0 and i > 0:
            ax.set_yticklabels(yticklabels[i])
            ax.set_ylabel(labels[i], fontsize=10.5)
        elif i != j:
            ax.set_yticklabels([])

# inset panel
axi = fig.add_axes([703.3 / W, 1 - 313.3 / H, 177.7 / W, 190.0 / H])
axi.set_xlim(0, 10)
axi.set_ylim(0.568, 2.0)
draw2d(axi, inset_contours)
axi.set_xticks([0, 5, 10])
axi.set_yticks([1.0, 1.5, 2.0])
axi.tick_params(labelsize=12.5, color=spine_col)
for s in axi.spines.values():
    s.set_color(spine_col)
axi.set_xlabel(r"$z_t$", fontsize=16, labelpad=6)
axi.set_ylabel(r"$\Omega_{\Lambda,0}+\Omega_{\rm V}$", fontsize=16)

handles = [Patch(facecolor=c, edgecolor="none") for c in legend_colors]
fig.legend(handles, legend_labels, loc="upper center", bbox_to_anchor=(0.528, 0.998),
           fontsize=8.2, handlelength=2.8, handleheight=0.9, borderpad=0.45,
           labelspacing=0.25, framealpha=1, edgecolor="#cccccc")

fig.savefig("out.png", dpi=100)
